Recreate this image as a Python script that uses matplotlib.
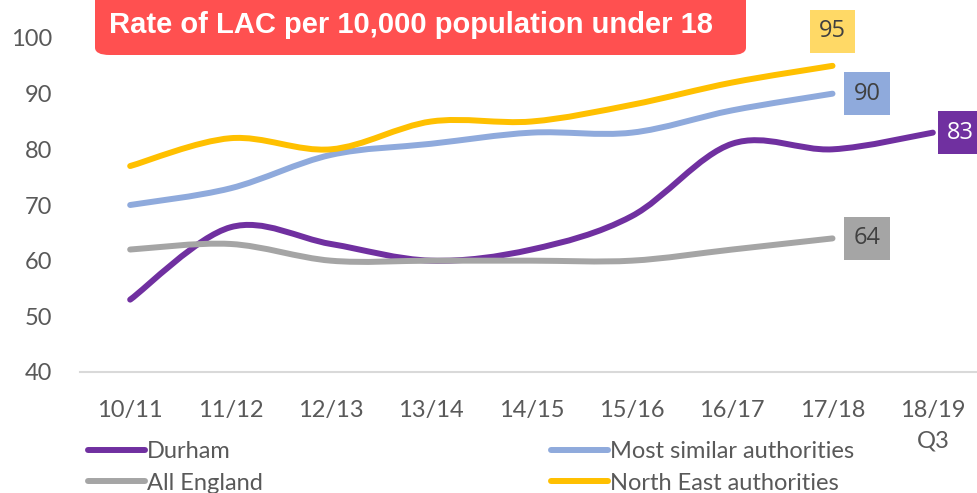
import matplotlib
matplotlib.use("Agg")
import matplotlib.pyplot as plt
from matplotlib.path import Path
from matplotlib.patches import PathPatch, FancyBboxPatch
from matplotlib.lines import Line2D

# data
years = ["10/11", "11/12", "12/13", "13/14", "14/15", "15/16", "16/17", "17/18", "18/19\nQ3"]
durham = [53, 66, 63, 60, 62, 68, 81, 80, 83]
similar = [70, 73, 79, 81, 83, 83, 87, 90]
england = [62, 63, 60, 60, 60, 60, 62, 64]
north_east = [77, 82, 80, 85, 85, 88, 92, 95]

c_durham = "#7030A0"
c_similar = "#8FAADC"
c_england = "#A5A5A5"
c_ne = "#FFC000"

narrow = ["Lato", "DejaVu Sans"]


def smooth_path(vals):
    # excel-style smoothed line: catmull-rom as cubic beziers
    pts = list(enumerate(vals))
    verts = [pts[0]]
    codes = [Path.MOVETO]
    n = len(pts)
    for i in range(n - 1):
        p0 = pts[max(i - 1, 0)]
        p1 = pts[i]
        p2 = pts[i + 1]
        p3 = pts[min(i + 2, n - 1)]
        c1 = (p1[0] + (p2[0] - p0[0]) / 6, p1[1] + (p2[1] - p0[1]) / 6)
        c2 = (p2[0] - (p3[0] - p1[0]) / 6, p2[1] - (p3[1] - p1[1]) / 6)
        verts += [c1, c2, p2]
        codes += [Path.CURVE4] * 3
    return Path(verts, codes)


fig = plt.figure(figsize=(9.77, 4.93), dpi=100)
ax = fig.add_axes([80 / 977, 121 / 493, 903 / 977, 334 / 493])
ax.set_xlim(-0.5, 8.5)
ax.set_ylim(40, 100)

series = [(durham, c_durham), (england, c_england), (similar, c_similar), (north_east, c_ne)]
for vals, col in series:
    ax.add_patch(PathPatch(smooth_path(vals), facecolor="none", edgecolor=col,
                           lw=4.3, capstyle="round", joinstyle="round", zorder=3))

for s in ["top", "right", "left"]:
    ax.spines[s].set_visible(False)
ax.spines["bottom"].set_color("#D9D9D9")
ax.spines["bottom"].set_linewidth(1.5)
ax.set_yticks(range(40, 101, 10))
ax.set_xticks(range(len(years)))
ax.set_xticklabels(years, family=narrow, fontsize=17, color="#595959", linespacing=1.55)
ax.tick_params(length=0, colors="#595959", labelsize=17)
for t in ax.get_yticklabels():
    t.set_family(narrow)
ax.tick_params(axis="y", pad=20)
ax.tick_params(axis="x", pad=20)

# end-of-line value labels
def value_label(x, y, text, fc, tc, dx, dy):
    ax.annotate(text, (x, y), xytext=(dx, dy), textcoords="offset points",
                ha="center", va="center", fontsize=17, family="Open Sans", color=tc,
                bbox=dict(boxstyle="square,pad=0.4", fc=fc, ec="none"),
                annotation_clip=False, zorder=5)

value_label(7, north_east[-1], str(north_east[-1]), "#FFD966", "#404040", 0, 25)
value_label(7, similar[-1], str(similar[-1]), c_similar, "#404040", 25, 0)
value_label(7, england[-1], str(england[-1]), c_england, "#404040", 25, 0)
value_label(8, durham[-1], str(durham[-1]), c_durham, "white", 20, 0)

# title box
fig.patches.append(FancyBboxPatch((95 / 977, 438 / 493), 651 / 977, 70 / 493,
                                  boxstyle="round,pad=0,rounding_size=0.015",
                                  transform=fig.transFigure, fc="#FF5050", ec="none"))
fig.text(411 / 977, 468 / 493, "Rate of LAC per 10,000 population under 18",
         ha="center", va="center", color="white", fontsize=21, fontweight="bold",
         family="Liberation Sans")

handles = [Line2D([], [], color=c_durham, lw=4.3, solid_capstyle="round"),
           Line2D([], [], color=c_england, lw=4.3, solid_capstyle="round"),
           Line2D([], [], color=c_similar, lw=4.3, solid_capstyle="round"),
           Line2D([], [], color=c_ne, lw=4.3, solid_capstyle="round")]
labels = ["Durham", "All England", "Most similar authorities", "North East authorities"]
fig.legend(handles, labels, ncol=2, loc="upper left", bbox_to_anchor=(88 / 977, 52 / 493),
           frameon=False, prop={"family": narrow, "size": 17}, labelcolor="#595959",
           handlelength=2.4, handletextpad=0.1, columnspacing=12.2, labelspacing=0.45,
           borderaxespad=0, borderpad=0)

fig.savefig("out.png", dpi=100)
